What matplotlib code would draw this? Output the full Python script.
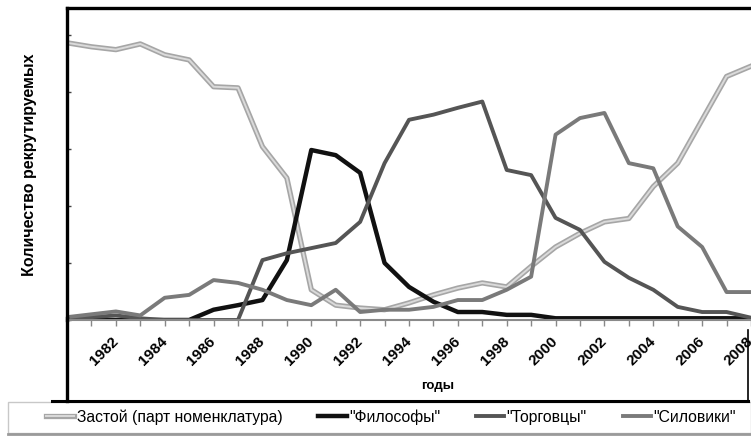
import matplotlib
matplotlib.use('Agg')
import matplotlib.pyplot as plt
import matplotlib.patheffects as pe
from matplotlib.lines import Line2D
from matplotlib.patches import Rectangle

plt.rcParams['font.family'] = ['Liberation Sans', 'DejaVu Sans']

years = list(range(1980, 2009))
zastoy = [48.6, 47.9, 47.4, 48.4, 46.5, 45.6, 40.9, 40.7, 30.4, 24.9, 5.3, 2.6, 2.1, 1.8, 3.0,
          4.4, 5.6, 6.5, 5.8, 9.4, 12.8, 15.2, 17.2, 17.8, 23.4, 27.5, 35.1, 42.7, 44.5]
filosofy = [0, 0, 0, 0, 0, 0, 1.8, 2.6, 3.5, 10.5, 29.8, 28.9, 25.8, 10.0, 5.8,
            3.2, 1.4, 1.4, 0.9, 0.9, 0.3, 0.3, 0.3, 0.3, 0.3, 0.3, 0.3, 0.3, 0.3]
torgovtsy = [0.3, 0.5, 0.8, 0.3, 0, 0, 0, 0, 10.5, 11.7, 12.6, 13.5, 17.2, 27.5, 35.1,
             36.0, 37.2, 38.3, 26.3, 25.4, 17.9, 15.8, 10.2, 7.4, 5.3, 2.3, 1.4, 1.4, 0.4]
siloviki = [0.5, 1.0, 1.5, 0.8, 3.9, 4.4, 7.0, 6.5, 5.3, 3.5, 2.6, 5.3, 1.4, 1.8, 1.8,
            2.3, 3.5, 3.5, 5.3, 7.6, 32.5, 35.4, 36.3, 27.5, 26.6, 16.4, 12.8, 4.9, 4.9]
labels = ['Застой (парт номенклатура)', '"Философы"', '"Торговцы"', '"Силовики"']
label_years = list(range(1982, 2009, 2))

W, H = 751, 436
fig = plt.figure(figsize=(W / 100, H / 100), dpi=100)
ax = fig.add_axes([67 / W, 1 - 320 / H, 1 - 67 / W, (320 - 8) / H])

l1, = ax.plot(years, zastoy, color='#dadada', lw=1.4, label=labels[0],
              path_effects=[pe.Stroke(linewidth=3.8, foreground='#a6a6a6'), pe.Normal()])
l2, = ax.plot(years, filosofy, color='#111111', lw=3.2, label=labels[1])
l3, = ax.plot(years, torgovtsy, color='#555555', lw=2.8, label=labels[2])
l4, = ax.plot(years, siloviki, color='#7a7a7a', lw=2.8, label=labels[3])

ax.set_xlim(1980, 2008)
ax.set_ylim(0, 54.7)
ax.set_xticks(years)
ax.set_xticklabels([str(y) if y in label_years else '' for y in years],
                   rotation=45, ha='right', va='center', rotation_mode='anchor',
                   fontsize=11, fontweight='bold')
ax.set_yticks([0, 10, 20, 30, 40, 50])
ax.set_yticklabels([])
ax.tick_params(axis='x', direction='out', length=4, color='#888888', width=1, pad=10)
ax.tick_params(axis='y', direction='in', length=3, color='#444444', width=1)

ax.spines['right'].set_visible(False)
ax.spines['left'].set_linewidth(2.4)
ax.spines['top'].set_linewidth(2.4)
ax.spines['bottom'].set_color('#8a8a8a')
ax.spines['bottom'].set_linewidth(1.5)

fig.text(30 / W, 1 - 165 / H, 'Количество рекрутируемых', rotation=90,
         ha='center', va='center', fontsize=11.5, fontweight='bold')
fig.text(438 / W, 1 - 386 / H, 'годы', ha='center', va='center', fontsize=9.5, fontweight='bold')

# chart frame below the plot
fig.add_artist(Line2D([67 / W, 67 / W], [1 - 318 / H, 1 - 401 / H], color='black', lw=2.4))
fig.add_artist(Line2D([52 / W, 748 / W], [1 - 401 / H, 1 - 401 / H], color='black', lw=2.2))
fig.add_artist(Line2D([748 / W, 748 / W], [1 - 330 / H, 1 - 401 / H], color='black', lw=1.2))

# legend box
fig.add_artist(Rectangle((8 / W, 1 - 433 / H), (W - 8) / W, 31 / H, transform=fig.transFigure,
                         facecolor='white', edgecolor='#c8c8c8', lw=1))
fig.add_artist(Line2D([8 / W, 1], [1 - 433.5 / H, 1 - 433.5 / H], color='#9a9a9a', lw=2))
fig.legend([l1, l2, l3, l4], labels, loc='center', bbox_to_anchor=(391 / W, 1 - 417 / H),
           ncol=4, frameon=False, fontsize=11.3, handlelength=1.8, handletextpad=0.15,
           columnspacing=2.3)

fig.savefig('out.png', dpi=100)
